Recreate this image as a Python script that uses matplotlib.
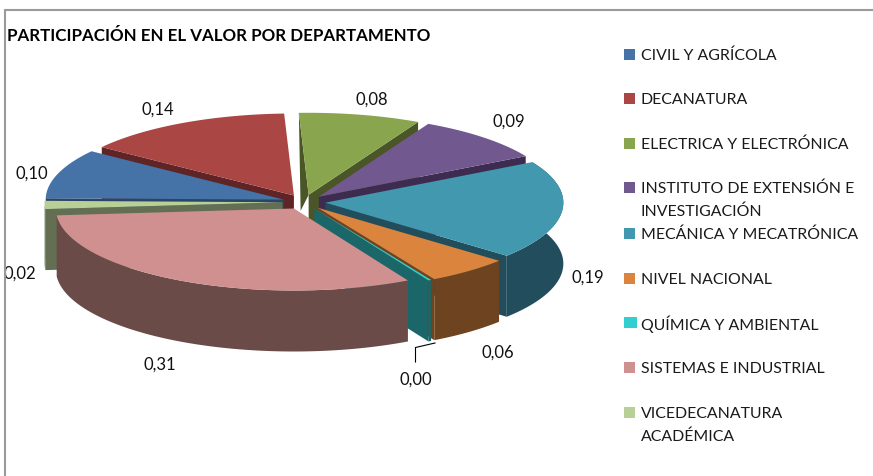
import numpy as np
import matplotlib
matplotlib.use("Agg")
import matplotlib.pyplot as plt
from matplotlib.patches import Polygon, Rectangle

plt.rcParams['font.family'] = ['Lato', 'DejaVu Sans']

# ---- data ----
categories = ["CIVIL Y AGRÍCOLA", "DECANATURA", "ELECTRICA Y ELECTRÓNICA",
              "INSTITUTO DE EXTENSIÓN E\nINVESTIGACIÓN", "MECÁNICA Y MECATRÓNICA",
              "NIVEL NACIONAL", "QUÍMICA Y AMBIENTAL", "SISTEMAS E INDUSTRIAL",
              "VICEDECANATURA\nACADÉMICA"]
values = [0.097, 0.142, 0.082, 0.091, 0.193, 0.056, 0.002, 0.314, 0.016]
top_colors = ["#4572A7", "#AA4643", "#89A54E", "#71588F", "#4198AF",
              "#DB843D", "#31CFD0", "#D09090", "#B8CF96"]
side_colors = ["#2A4568", "#5E2426", "#4A5628", "#3E2C50", "#214D5C",
               "#6E4420", "#1A6669", "#6A4B48", "#636E52"]

# ---- layout (pixels) ----
W, H = 873, 476
CX, CY = 304, 202
A, B = 238, 82
DEPTH = 61
EXPLODE = 0.09
START = 271.0
PAINT_ORDER = [1, 2, 3, 0, 8, 4, 5, 6, 7]
label_xy = [(32, 174), (158, 110), (372, 100), (509, 122), (588, 278),
            (498, 353), (416, 380), (160, 365), (20, 274)]
legend_y = [56, 100, 145, 189, 235, 280, 324, 369, 414]
swatch_w = [11, 11, 11, 11, 11, 11, 13, 11, 11]
line_step = 22.5

fig = plt.figure(figsize=(W / 100, H / 100), dpi=100)
ax = fig.add_axes([0, 0, 1, 1])
ax.set_xlim(0, W)
ax.set_ylim(H, 0)
ax.axis("off")

total = sum(values)
spans = [v / total * 360 for v in values]
starts = START + np.concatenate([[0], np.cumsum(spans)[:-1]])


def pt(theta, r=1.0):
    t = np.radians(theta)
    return A * r * np.sin(t), -B * r * np.cos(t)


def poly(points, color, z):
    ax.add_patch(Polygon(points, closed=True, facecolor=color,
                         edgecolor="none", zorder=z))


z = 1
for i in PAINT_ORDER:
    t0, t1 = starts[i], starts[i] + spans[i]
    mid = (t0 + t1) / 2
    ox, oy = pt(mid, EXPLODE)
    cx, cy = CX + ox, CY + oy
    thetas = np.linspace(t0, t1, max(int(spans[i]) * 2, 4))
    arc = np.array([(cx + pt(t)[0], cy + pt(t)[1]) for t in thetas])
    down = np.array([0, DEPTH])
    apex = np.array([cx, cy])
    # radial cut faces
    if i == 2:  # nearly edge-on cut face of the slice at the top
        poly([arc[0], apex, apex + [-8, 16]], side_colors[i], z)
    elif np.sin(np.radians(t0)) < 0:
        poly([arc[0], apex, apex + down, arc[0] + down], side_colors[i], z)
    if np.sin(np.radians(t1)) > 0:
        poly([arc[-1], apex, apex + down, arc[-1] + down], side_colors[i], z)
    # outer rim
    if np.any(np.cos(np.radians(thetas)) < 0):
        poly(np.vstack([arc, (arc + down)[::-1]]), side_colors[i], z)
    # top face
    poly(np.vstack([apex, arc]), top_colors[i], z + 0.5)
    z += 1

# data labels
for v, (x, y) in zip(values, label_xy):
    ax.text(x, y, f"{v:.2f}".replace(".", ","), fontsize=12, color="#111111",
            ha="center", va="center", zorder=50)
ax.plot([435, 415.5, 415.5], [343, 347.5, 362], color="black", lw=0.8, zorder=40)

# title
ax.text(7, 36, "PARTICIPACIÓN EN EL VALOR POR DEPARTAMENTO", fontsize=12.2,
        fontweight="bold", color="black", ha="left", va="center", zorder=50)

# legend
for name, c, y, sw in zip(categories, top_colors, legend_y, swatch_w):
    ax.add_patch(Rectangle((624, y - 7), sw, 11, facecolor=c, edgecolor="none", zorder=50))
    for k, line in enumerate(name.split("\n")):
        ax.text(641, y + k * line_step, line, fontsize=11.4, color="#1a1a1a",
                ha="left", va="center", zorder=50)

# chart frame
ax.plot([4.5, 4.5, W], [H, 10, 10], color="#9a9a9a", lw=1.5, zorder=60,
        solid_joinstyle="miter")

fig.savefig("out.png", dpi=100, facecolor="white")
